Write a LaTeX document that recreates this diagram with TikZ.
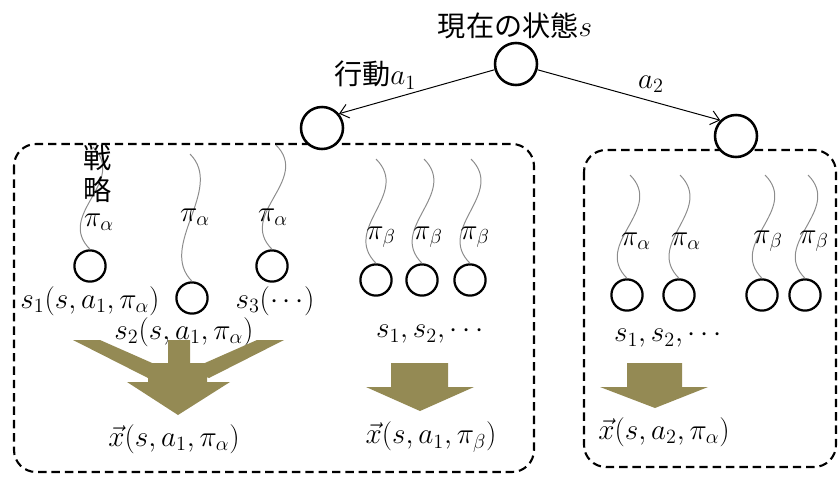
\documentclass[tikz,border=0pt]{standalone}
\usepackage{fontspec}
\newfontfamily\jp{Noto Sans CJK JP}
\usepackage{tikz}
\usetikzlibrary{arrows.meta}
\definecolor{arrowolive}{RGB}{148,138,84}
\definecolor{strandgray}{gray}{0.55}

\begin{document}
\begin{tikzpicture}[
    x=0.025cm, y=-0.025cm,
    every node/.style={font=\fontsize{20}{23}\selectfont},
    statenode/.style={
        circle,
        draw=black,
        line width=1.8pt,
        fill=white,
        inner sep=0pt,
        minimum size=1.05cm
    },
    samplenode/.style={
        circle,
        draw=black,
        line width=1.6pt,
        fill=white,
        inner sep=0pt,
        minimum size=0.78cm
    },
    frame/.style={draw=black, line width=1.5pt, dash pattern=on 6pt off 3.5pt, rounded corners=0.55cm},
    act/.style={-{Straight Barb[length=6pt,width=10pt]}, line width=0.7pt},
    strand/.style={draw=strandgray, line width=0.7pt},
    blockarrow/.style={fill=arrowolive}
]
\useasboundingbox (0,0) rectangle (840,480);

% Rollout groups
\draw[frame] (14,144) rectangle (534,472);
\draw[frame] (584,150) rectangle (836,467);

% Root state and the two actions
\node[statenode] (root) at (516,64) {};
\node[statenode] (act1) at (322,128) {};
\node[statenode] (act2) at (736,136) {};
\node (rootlbl) at (515,26) {\jp 現在の状態$s$};

\draw[act] (root.195) -- (act1.40);
\draw[act] (root.-15) -- (act2.135);
\node (a1lbl) at (375,75) {\jp 行動$a_1$};
\node (a2lbl) at (651,84) {$a_2$};

% Sampled end states
\foreach \n/\x/\y in {c1/90/266, c2/192/298, c3/272/266,
                      b1/376/280, b2/422/280, b3/470/280,
                      r1/627/295, r2/679/295, r3/762/295, r4/805/295}
    \node[samplenode] (\n) at (\x,\y) {};

% Playout strands
\foreach \n/\x/\y in {c1/93/147, c2/190/154, c3/276/145,
                      b1/376/159, b2/424/159, b3/471/159,
                      r1/630/175, r2/680/175, r3/765/175, r4/808/175}
    \coordinate (\n top) at (\x,\y);
\foreach \n in {c1,c2,c3,b1,b2,b3,r1,r2,r3,r4}
    \draw[strand] (\n top) .. controls +(35,35) and +(-35,-35) .. (\n.north);

% Policy labels
\node[align=center, inner sep=0pt] (strat) at (98,174) {\jp 戦\\\jp 略};
\foreach \n/\x/\y/\greek in {pa1/99/222/alpha, pa2/195/217/alpha, pa3/273/217/alpha,
                             pb1/381/237/beta, pb2/428/237/beta, pb3/475/237/beta,
                             qa1/636/241/alpha, qa2/686/241/alpha,
                             qb1/768/241/beta, qb2/814/241/beta}
    \node (\n) at (\x,\y) {$\pi_{\csname\greek\endcsname}$};

\node (s1lbl) at (90,301) {$s_1(s,a_1,\pi_\alpha)$};
\node (s2lbl) at (184,332) {$s_2(s,a_1,\pi_\alpha)$};
\node (s3lbl) at (275,301) {$s_3(\cdots)$};
\node (bslbl) at (430,334) {$s_1,s_2,\cdots$};
\node (rslbl) at (668,338) {$s_1,s_2,\cdots$};

% Aggregation arrows
\fill[blockarrow] (168,340) -- (190,340) -- (190,363) -- (207,363) -- (207,382) -- (230,382)
    -- (178,415) -- (127,382) -- (148,382) -- (148,363) -- (168,363) -- cycle;
\fill[blockarrow] (73,340) -- (100,340) -- (168,370) -- (148,378) -- cycle;
\fill[blockarrow] (284,340) -- (257,340) -- (189,370) -- (209,378) -- cycle;
\fill[blockarrow] (391,363) -- (448,363) -- (448,387) -- (474,387) -- (420,411) -- (366,387) -- (391,387) -- cycle;
\fill[blockarrow] (627,363) -- (682,363) -- (682,387) -- (708,387) -- (655,408) -- (600,387) -- (627,387) -- cycle;

\node (xa1) at (174,439) {$\vec{x}(s,a_1,\pi_\alpha)$};
\node (xb1) at (431,437) {$\vec{x}(s,a_1,\pi_\beta)$};
\node (xa2) at (664,432) {$\vec{x}(s,a_2,\pi_\alpha)$};

\end{tikzpicture}
\end{document}
